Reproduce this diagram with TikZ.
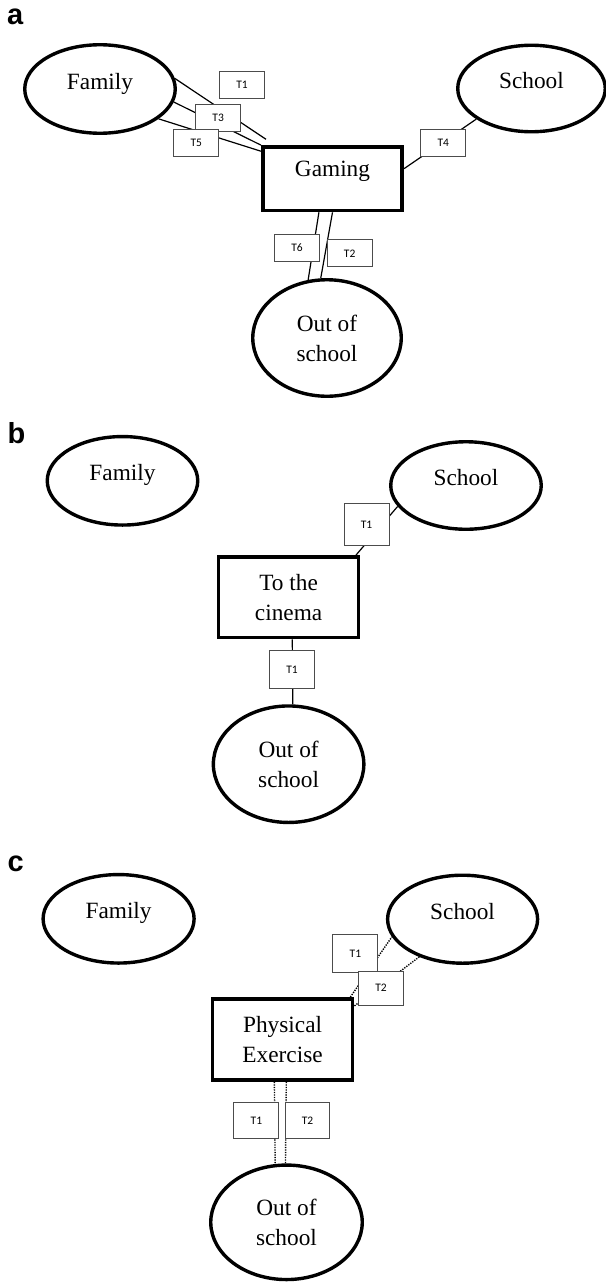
\documentclass[tikz,border=0pt]{standalone}
\usepackage{fontspec}
\setmainfont{Liberation Serif}
\newfontfamily\tlabfont{Carlito}
\newfontfamily\plabfont{Liberation Sans}
\usetikzlibrary{shapes.geometric}
\begin{document}
\begin{tikzpicture}[x=1pt,y=-1pt,
  ell/.style={ellipse, draw, line width=3.4pt, inner sep=0pt, align=center,
    font=\fontsize{23.3pt}{30pt}\selectfont},
  act/.style={rectangle, draw, line width=3.7pt, inner sep=0pt, align=center,
    font=\fontsize{23.3pt}{30pt}\selectfont},
  one/.style={text height=16pt, text depth=16pt},
  tb/.style={rectangle, draw=black!70, fill=white, line width=1pt, inner sep=0pt,
    font=\tlabfont\fontsize{11.5pt}{13pt}\selectfont},
  conn/.style={line width=1.2pt},
  dconn/.style={line width=1.4pt, dash pattern=on 1.3pt off 1.2pt},
  plab/.style={anchor=base west, inner sep=0pt,
    font=\plabfont\bfseries\fontsize{29pt}{30pt}\selectfont}
]
\useasboundingbox (0,0) rectangle (605,1282);

% ---------------- panel a ----------------
\node[plab] (la) at (7,24) {a};
\node[ell, one, minimum width=150.5pt, minimum height=88.5pt] (fa) at (100,89) {Family};
\node[ell, one, minimum width=147.5pt, minimum height=86.5pt] (sa) at (531.5,88.5) {School};
\node[act, text height=16pt, text depth=20pt, minimum width=139.5pt, minimum height=63.5pt] (ga) at (332.5,178.7) {Gaming};
\node[ell, minimum width=148.5pt, minimum height=116.5pt] (oa) at (327,338) {Out of\\school};

\coordinate (a1) at (266,139.3);
\draw[conn] (fa.8) -- (a1);
\draw[conn] (fa.-10) -- (ga.north west);
\draw[conn] (fa.-27) -- (ga.159.6);
\draw[conn] (ga.8.5) -- (sa.209.5);
\draw[conn] (ga.-112) -- (oa.108);
\draw[conn] (ga.-90) -- (oa.96.5);

\node[tb, minimum width=45pt, minimum height=27pt] (at1) at (242,85) {T1};
\node[tb, minimum width=45pt, minimum height=27pt] (at3) at (218.2,117.5) {T3};
\node[tb, minimum width=45pt, minimum height=27pt] (at5) at (196.3,143) {T5};
\node[tb, minimum width=45pt, minimum height=27pt] (at4) at (443.3,143) {T4};
\node[tb, minimum width=45pt, minimum height=27.5pt] (at6) at (297,248) {T6};
\node[tb, minimum width=45pt, minimum height=27pt] (at2) at (349.7,253.3) {T2};

% ---------------- panel b ----------------
\node[plab] (lb) at (7.5,443.3) {b};
\node[ell, one, minimum width=150.5pt, minimum height=88.5pt] (fb) at (122.5,480.8) {Family};
\node[ell, one, minimum width=150.5pt, minimum height=87.5pt] (sb) at (466,485.5) {School};
\node[act, minimum width=140pt, minimum height=80.5pt] (cb) at (288.6,597.2) {To the\\cinema};
\node[ell, minimum width=150.5pt, minimum height=116.5pt] (ob) at (288.6,764.2) {Out of\\school};

\draw[conn] (cb.32.2) -- (sb.197.5);
\draw[conn] (cb.-85.2) -- (ob.86.7);

\node[tb, minimum width=45pt, minimum height=41.5pt] (bt1) at (366.5,524.7) {T1};
\node[tb, minimum width=45pt, minimum height=38pt] (bt1b) at (292,669.5) {T1};

% ---------------- panel c ----------------
\node[plab] (lc) at (7.5,871.7) {c};
\node[ell, one, minimum width=151pt, minimum height=88.5pt] (fc) at (118.6,918.8) {Family};
\node[ell, one, minimum width=150pt, minimum height=88pt] (sc) at (462.6,919.2) {School};
\node[act, minimum width=140pt, minimum height=81pt] (pc) at (282.6,1039.4) {Physical\\Exercise};
\node[ell, minimum width=151.5pt, minimum height=114.5pt] (oc) at (286.5,1222.3) {Out of\\school};

\draw[dconn] (pc.32.9) -- (sc.194);
\draw[dconn] (pc.25.8) -- (sc.221.3);
\draw[dconn] (pc.-101) -- (oc.101.7);
\draw[dconn] (pc.-85.9) -- (oc.91);

\node[tb, minimum width=45pt, minimum height=38pt] (ct1) at (355.4,953.8) {T1};
\node[tb, minimum width=45pt, minimum height=34pt] (ct2) at (381,988.2) {T2};
\node[tb, minimum width=45pt, minimum height=36.6pt] (ct1b) at (256.4,1120.5) {T1};
\node[tb, minimum width=44.5pt, minimum height=36.6pt] (ct2b) at (307.5,1120.5) {T2};
\end{tikzpicture}
\end{document}
